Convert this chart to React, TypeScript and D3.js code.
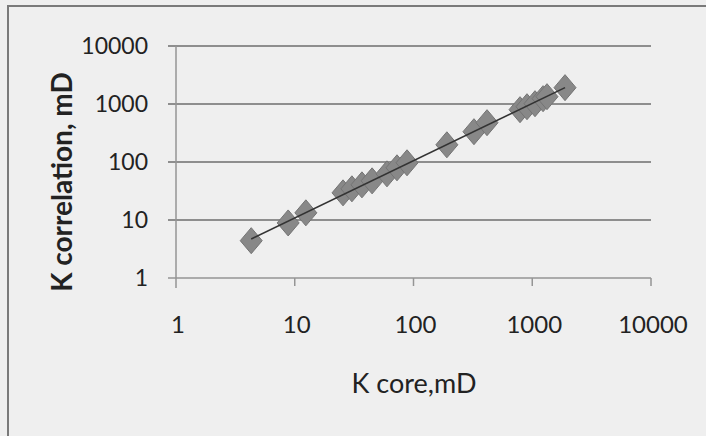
import React from 'react'
import * as d3 from 'd3'

// K core vs K correlation (mD)
const kCore = [4.3, 8.8, 12.4, 25.5, 30.3, 36.8, 44.8, 59.8, 72.6, 88.2, 191, 323, 416, 789, 903, 1055, 1233, 1331, 1888]
const kCorrelation = [4.4, 8.9, 13.3, 29.4, 34.5, 40.4, 47.3, 62.5, 79.4, 96.9, 198, 333, 476, 798, 898, 1012, 1235, 1337, 1914]
const tickValues = [1, 10, 100, 1000, 10000]

const W = 706, H = 436
const font = "Lato, 'Open Sans', sans-serif"

const App = () => {
    const x = d3.scaleLog().domain([1, 10000]).range([176, 651])
    const y = d3.scaleLog().domain([1, 10000]).range([278, 46])

    // power trendline = linear fit in log space
    const lx = kCore.map(Math.log10)
    const ly = kCorrelation.map(Math.log10)
    const mx = d3.mean(lx) as number
    const my = d3.mean(ly) as number
    const slope = d3.sum(lx, (v, i) => (v - mx) * (ly[i] - my)) / d3.sum(lx, v => (v - mx) ** 2)
    const icpt = my - slope * mx
    const xs = d3.extent(kCore) as [number, number]
    const trend = xs.map(v => [x(v), y(Math.pow(10, icpt + slope * Math.log10(v)))] as [number, number])

    const diamond = (cx: number, cy: number) =>
        `M${cx},${cy - 13}L${cx + 11},${cy}L${cx},${cy + 13}L${cx - 11},${cy}Z`

    return (
        <svg width={W} height={H} style={{ position: 'absolute', left: 0, top: 0 }}>
            <rect width={W} height={H} fill="#efefef" />
            <rect x={8} y={6} width={W + 10} height={H + 10} fill="none" stroke="#7a7a7a" strokeWidth={2} />

            {/* horizontal gridlines */}
            {tickValues.slice(1).map(t => (
                <line key={'g' + t} x1={168} x2={651} y1={y(t)} y2={y(t)} stroke="#6e6e6e" strokeWidth={1.3} />
            ))}
            {/* axes */}
            <line x1={168} x2={651} y1={y(1)} y2={y(1)} stroke="#959595" strokeWidth={1.5} />
            <line x1={x(1)} x2={x(1)} y1={y(10000)} y2={y(1) + 10} stroke="#959595" strokeWidth={1.5} />
            {tickValues.slice(1).map(t => (
                <line key={'t' + t} x1={x(t)} x2={x(t)} y1={y(1)} y2={y(1) + 8} stroke="#959595" strokeWidth={1.5} />
            ))}

            {/* tick labels */}
            {tickValues.map(t => (
                <text key={'yl' + t} x={148} y={y(t)} dy="0.36em" textAnchor="end"
                    fontFamily={font} fontSize={23} fill="#222">{t}</text>
            ))}
            {tickValues.map(t => (
                <text key={'xl' + t} x={x(t) + 2} y={324} dy="0.36em" textAnchor="middle"
                    fontFamily={font} fontSize={24} fill="#222">{t}</text>
            ))}

            {/* points */}
            {kCore.map((v, i) => (
                <path key={'p' + i} d={diamond(x(v), y(kCorrelation[i]))} fill="#888" stroke="#747474" strokeWidth={1} />
            ))}
            <line x1={trend[0][0]} y1={trend[0][1]} x2={trend[1][0]} y2={trend[1][1]} stroke="#333" strokeWidth={1.6} />

            {/* axis titles */}
            <text x={414} y={383} dy="0.36em" textAnchor="middle" fontFamily={font} fontSize={27} fill="#222">K core,mD</text>
            <text transform="translate(62,182) rotate(-90)" dy="0.36em" textAnchor="middle"
                fontFamily={font} fontSize={28} fontWeight="bold" fill="#222">K correlation, mD</text>
        </svg>
    )
}

export default App
